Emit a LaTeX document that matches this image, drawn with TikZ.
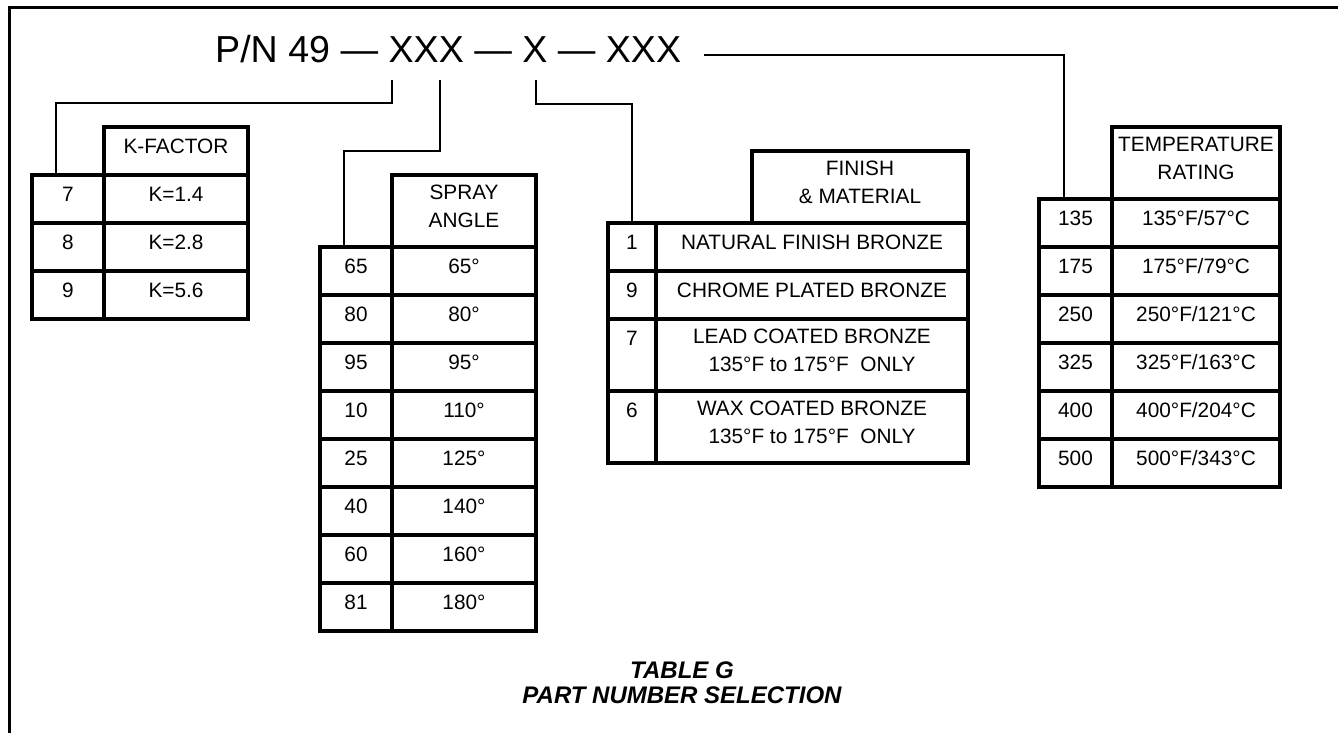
\documentclass[tikz,border=0pt]{standalone}
\usepackage{fontspec}
\setmainfont{Liberation Sans}
\newcommand{\pnfont}{\fontsize{37.6}{40}\selectfont}
\newcommand{\tabfont}{\fontsize{20.8}{28}\selectfont}
\newcommand{\capfont}{\fontsize{24}{25}\selectfont\bfseries\itshape}
\begin{document}
\begin{tikzpicture}[
        % one unit = one pixel, y grows downwards
        x=1pt, y=-1pt,
        frame/.style={line width=3pt},
        wire/.style={line width=2.4pt},
        cell/.style={draw, line width=3.4pt, outer sep=0pt, inner sep=0pt,
            anchor=north west, minimum height=48pt},
        txt/.style={font=\tabfont, align=center, inner sep=0pt, yshift=4.5pt}
    ]
    \useasboundingbox (0,0) rectangle (1338,733);

    % --- 1. frame (top and left only) ---
    \draw[frame] (9,733) -- (9,8) -- (1338,8);

    % --- 2. part number ---
    \node[anchor=base west, inner sep=0pt, font=\pnfont] (pn) at (215,63) {P/N 49 — XXX — X — XXX};

    % --- 3. K-factor table ---
    \node[cell, minimum width=144pt, label={[txt]center:K-FACTOR}] (kf-h) at (104,127) {};
    \foreach \kcode/\kval [count=\i] in {7/1.4, 8/2.8, 9/5.6} {
        \pgfmathsetmacro{\rowy}{175+48*(\i-1)}
        \node[cell, minimum width=72pt, label={[txt]center:\kcode}] (kf-c\i) at (32,\rowy) {};
        \node[cell, minimum width=144pt, label={[txt]center:K=\kval}] (kf-v\i) at (104,\rowy) {};
    }

    % --- 4. spray angle table ---
    \node[cell, minimum width=144pt, minimum height=72pt, label={[txt]center:SPRAY\\ANGLE}] (sa-h) at (392,175) {};
    \foreach \scode/\sang [count=\i] in {65/65, 80/80, 95/95, 10/110, 25/125, 40/140, 60/160, 81/180} {
        \pgfmathsetmacro{\rowy}{247+48*(\i-1)}
        \node[cell, minimum width=72pt, label={[txt]center:\scode}] (sa-c\i) at (320,\rowy) {};
        \node[cell, minimum width=144pt, label={[txt]center:\sang°}] (sa-v\i) at (392,\rowy) {};
    }

    % --- 5. finish & material table ---
    \node[cell, minimum width=216pt, minimum height=72pt, label={[txt]center:FINISH\\\& MATERIAL}] (fm-h) at (752,151) {};
    \foreach \fy/\fh/\fcode/\fdesc [count=\i] in {
            223/48/1/{NATURAL FINISH BRONZE},
            271/48/9/{CHROME PLATED BRONZE},
            319/72/7/{LEAD COATED BRONZE\\135°F to 175°F~~ONLY},
            391/72/6/{WAX COATED BRONZE\\135°F to 175°F~~ONLY}} {
        \pgfmathsetmacro{\drop}{(\fh-48)/2}
        \node[cell, minimum width=48pt, minimum height=\fh pt, label={[txt, yshift=\drop pt]center:\fcode}] (fm-c\i) at (608,\fy) {};
        \node[cell, minimum width=312pt, minimum height=\fh pt, label={[txt]center:\fdesc}] (fm-v\i) at (656,\fy) {};
    }

    % --- 6. temperature rating table ---
    \node[cell, minimum width=168pt, minimum height=72pt, label={[txt]center:TEMPERATURE\\RATING}] (tr-h) at (1112,127) {};
    \foreach \tf/\tc [count=\i] in {135/57, 175/79, 250/121, 325/163, 400/204, 500/343} {
        \pgfmathsetmacro{\rowy}{199+48*(\i-1)}
        \node[cell, minimum width=73pt, label={[txt]center:\tf}] (tr-c\i) at (1039,\rowy) {};
        \node[cell, minimum width=168pt, label={[txt]center:\tf°F/\tc°C}] (tr-v\i) at (1112,\rowy) {};
    }

    % --- 7. connectors from the part number to the tables ---
    \coordinate (kf-a) at (392,80);
    \coordinate (kf-b) at (56,103);
    \draw[wire] (kf-a) |- (kf-b) -- (kf-b |- kf-c1.north);

    \coordinate (sa-a) at (440,80);
    \coordinate (sa-b) at (344,151);
    \draw[wire] (sa-a) |- (sa-b) -- (sa-b |- sa-c1.north);

    \coordinate (fm-a) at (536,80);
    \coordinate (fm-b) at (632,104);
    \draw[wire] (fm-a) |- (fm-b) -- (fm-b |- fm-c1.north);

    \coordinate (tr-a) at (704,55);
    \coordinate (tr-b) at (1064,55);
    \draw[wire] (tr-a) -- (tr-b) -- (tr-b |- tr-c1.north);

    % --- 8. caption ---
    \node[font=\capfont, align=center, inner sep=0pt] (cap) at (682,682.5) {TABLE G\\PART NUMBER SELECTION};

\end{tikzpicture}
\end{document}
